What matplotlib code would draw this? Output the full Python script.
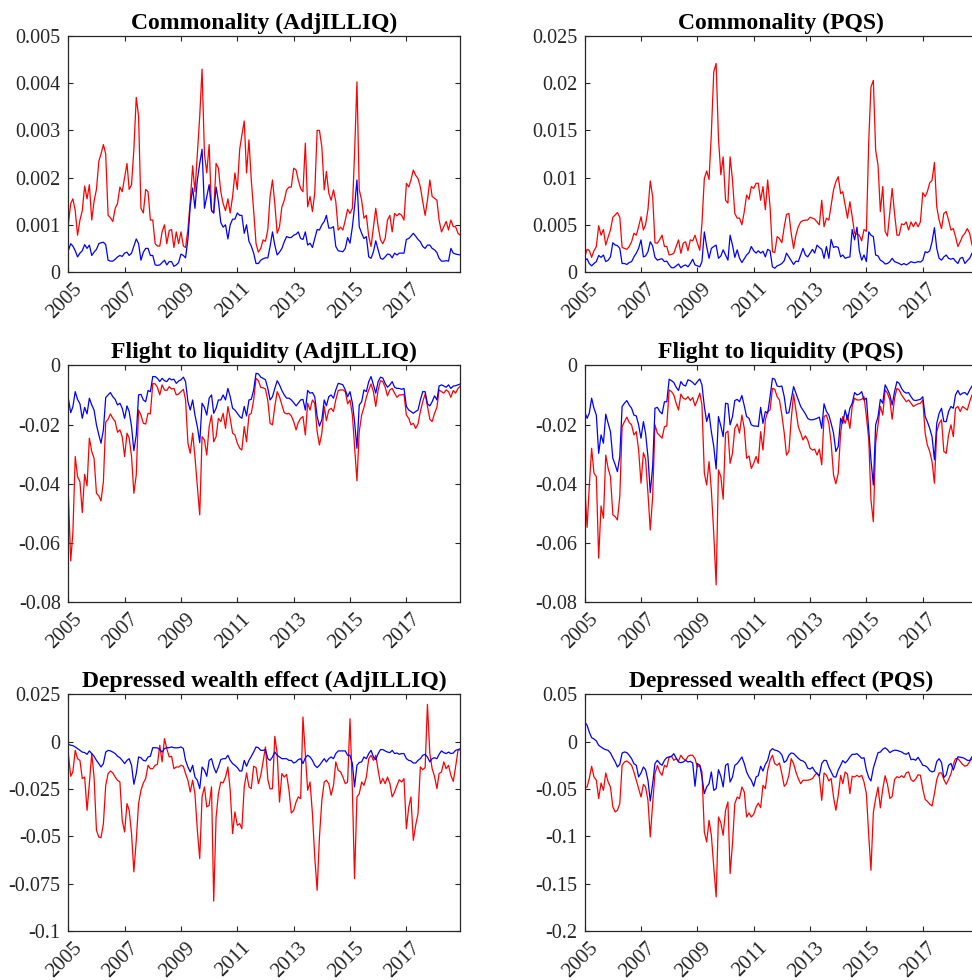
import numpy as np
import pandas as pd
import matplotlib
matplotlib.use('Agg')
import matplotlib.pyplot as plt
import matplotlib.transforms as mtransforms

plt.rcParams['font.family'] = ['Liberation Serif', 'DejaVu Serif']

# monthly observations Jan 2005 - Dec 2018, values in units of 1e-3
dates = pd.date_range('2005-01-01', periods=168, freq='MS')
year_ticks = pd.to_datetime(['2005-01-01', '2007-01-01', '2009-01-01', '2011-01-01',
                             '2013-01-01', '2015-01-01', '2017-01-01'])
year_labels = ['2005', '2007', '2009', '2011', '2013', '2015', '2017']

comm_adj_red = [
    1.0, 1.45, 1.55, 1.3, 0.78, 1.1, 1.3, 1.82, 1.55, 1.85, 1.1, 1.5,
    1.75, 2.35, 2.5, 2.7, 2.5, 1.2, 1.15, 1.07, 1.35, 1.45, 1.8, 1.7,
    2.0, 2.3, 1.75, 1.85, 2.6, 3.7, 3.3, 1.35, 1.25, 1.75, 1.7, 1.1,
    1.1, 0.6, 0.55, 0.55, 0.85, 1.0, 0.6, 0.88, 0.9, 0.52, 0.85, 0.6,
    0.85, 0.55, 0.52, 0.9, 1.5, 2.25, 1.7, 2.5, 3.3, 4.3, 2.5, 2.1,
    2.7, 1.3, 1.25, 2.3, 2.2, 1.7, 1.45, 1.3, 1.55, 1.25, 1.6, 2.1,
    1.75, 2.6, 2.9, 3.2, 2.1, 2.8, 1.95, 1.3, 0.6, 0.42, 0.5, 0.68,
    0.65, 0.9, 1.6, 1.95, 1.45, 0.82, 0.96, 1.38, 1.52, 1.74, 1.8, 1.8,
    2.2, 2.16, 1.95, 1.77, 1.7, 2.73, 1.38, 1.6, 1.28, 1.67, 3.0, 3.0,
    2.65, 1.74, 2.13, 1.67, 1.52, 1.74, 1.49, 0.89, 0.95, 0.89, 1.1, 1.33,
    1.24, 1.35, 2.5, 4.03, 1.74, 1.52, 1.14, 1.2, 0.75, 0.54, 0.96, 1.35,
    0.96, 0.68, 0.6, 0.71, 1.1, 1.2, 0.85, 1.24, 1.19, 1.24, 1.2, 1.1,
    1.88, 1.8, 1.95, 2.16, 2.05, 1.98, 1.8, 1.49, 1.2, 1.52, 1.95, 1.6,
    1.56, 1.52, 1.1, 0.85, 0.96, 1.07, 0.89, 1.1, 0.96, 0.96, 0.82, 0.78]
comm_adj_blue = [
    0.45, 0.6, 0.55, 0.45, 0.32, 0.4, 0.45, 0.58, 0.5, 0.57, 0.35, 0.42,
    0.48, 0.6, 0.62, 0.63, 0.58, 0.25, 0.23, 0.23, 0.27, 0.32, 0.35, 0.33,
    0.4, 0.42, 0.35, 0.4, 0.55, 0.7, 0.6, 0.25, 0.42, 0.5, 0.5, 0.35,
    0.35, 0.15, 0.14, 0.15, 0.2, 0.25, 0.15, 0.22, 0.22, 0.12, 0.15, 0.2,
    0.38, 0.35, 0.3, 0.7, 1.4, 1.78, 1.35, 1.95, 2.3, 2.6, 1.35, 1.6,
    1.85, 1.3, 1.25, 1.8, 1.5, 1.05, 0.95, 1.0, 0.7, 1.0, 1.12, 1.12,
    1.25, 1.2, 1.2, 0.82, 1.0, 0.65, 0.55, 0.4, 0.18, 0.18, 0.25, 0.28,
    0.3, 0.3, 0.54, 0.85, 0.57, 0.36, 0.42, 0.5, 0.64, 0.75, 0.73, 0.73,
    0.78, 0.8, 0.85, 0.71, 0.69, 0.85, 0.57, 0.61, 0.52, 0.71, 0.9, 0.89,
    1.0, 1.07, 1.2, 0.93, 0.93, 0.96, 0.54, 0.45, 0.44, 0.43, 0.5, 0.73,
    0.61, 0.96, 1.38, 1.95, 0.96, 0.82, 0.71, 0.75, 0.32, 0.29, 0.43, 0.66,
    0.47, 0.29, 0.27, 0.32, 0.38, 0.37, 0.3, 0.4, 0.36, 0.4, 0.4, 0.4,
    0.69, 0.71, 0.76, 0.82, 0.76, 0.69, 0.64, 0.54, 0.5, 0.57, 0.57, 0.5,
    0.47, 0.41, 0.29, 0.23, 0.23, 0.24, 0.23, 0.5, 0.4, 0.38, 0.37, 0.36]

comm_pqs_red = [
    1.6, 2.4, 2.3, 1.55, 2.25, 2.7, 4.9, 3.9, 4.5, 2.85, 3.7, 4.45,
    5.8, 6.05, 6.3, 5.8, 2.6, 2.5, 2.4, 2.7, 3.2, 4.1, 3.9, 4.8,
    5.85, 4.45, 5.0, 6.6, 9.65, 8.0, 3.1, 3.05, 3.45, 3.9, 2.7, 2.7,
    1.8, 1.87, 1.98, 2.7, 3.4, 1.98, 3.05, 3.2, 2.25, 3.4, 3.3, 3.9,
    3.05, 2.3, 5.15, 9.9, 10.7, 9.8, 14.7, 21.2, 22.1, 14.2, 10.3, 12.2,
    7.6, 7.3, 12.2, 9.75, 6.2, 5.7, 5.7, 5.0, 6.4, 8.15, 7.7, 9.05,
    8.85, 9.4, 9.4, 7.6, 9.05, 6.6, 9.75, 6.9, 2.15, 2.05, 3.75, 3.55,
    3.1, 4.8, 6.1, 6.2, 4.1, 2.5, 3.9, 4.8, 5.3, 5.45, 5.5, 5.5,
    5.8, 5.7, 5.6, 5.3, 5.0, 7.6, 4.8, 5.7, 5.5, 7.1, 8.7, 9.55,
    10.1, 8.3, 8.5, 7.1, 5.7, 7.45, 5.85, 4.1, 4.0, 3.9, 3.3, 4.5,
    4.3, 14.0, 19.6, 20.3, 12.9, 11.3, 6.4, 9.05, 4.3, 3.8, 6.4, 8.85,
    6.2, 3.9, 3.9, 5.1, 5.0, 5.3, 4.45, 5.3, 4.8, 5.3, 4.8, 5.3,
    8.4, 8.0, 8.5, 9.45, 9.7, 11.6, 6.9, 5.5, 4.6, 6.2, 6.4, 5.5,
    4.45, 4.6, 3.75, 2.7, 3.2, 3.8, 4.1, 4.6, 4.1, 2.85, 2.8, 2.9]
comm_pqs_blue = [
    1.2, 1.4, 0.9, 0.65, 0.9, 1.1, 1.75, 1.55, 1.8, 1.1, 1.25, 1.6,
    3.1, 2.85, 2.8, 2.5, 0.9, 0.9, 0.8, 1.0, 1.1, 1.6, 2.0, 2.5,
    3.4, 1.6, 1.7, 2.15, 3.2, 2.75, 1.55, 1.25, 1.35, 1.4, 1.1, 1.15,
    0.75, 0.45, 0.45, 0.65, 0.85, 0.45, 0.65, 0.75, 0.55, 0.9, 1.35, 0.75,
    0.65, 0.55, 1.1, 4.25, 2.7, 1.45, 2.5, 2.7, 2.85, 1.45, 1.7, 2.35,
    1.8, 1.25, 3.9, 2.85, 1.55, 2.35, 1.45, 1.0, 1.4, 1.8, 2.05, 2.7,
    2.25, 2.0, 2.25, 2.0, 2.2, 1.6, 2.4, 2.25, 0.55, 0.4, 0.65, 0.75,
    0.9, 1.2, 2.0, 1.6, 1.2, 0.8, 1.15, 1.1, 1.8, 2.5, 1.8, 1.6,
    2.0, 2.4, 2.0, 2.85, 2.6, 2.4, 1.45, 2.7, 1.45, 3.45, 2.6, 2.7,
    2.6, 1.6, 1.8, 1.45, 1.55, 1.6, 4.5, 3.4, 4.75, 2.25, 1.25, 1.8,
    1.1, 4.25, 3.9, 3.75, 1.8, 1.7, 1.25, 1.1, 0.85, 0.9, 1.1, 1.45,
    1.1, 1.0, 0.9, 0.75, 0.9, 0.75, 0.9, 1.1, 1.0, 1.0, 1.1, 1.05,
    1.25, 2.15, 2.05, 2.25, 3.2, 4.7, 2.5, 1.45, 1.25, 1.6, 1.8, 1.45,
    1.35, 1.45, 1.15, 0.9, 1.45, 1.55, 0.9, 1.2, 1.45, 2.0, 2.1, 2.2]

flight_adj_red = [
    -43, -66, -56.7, -30.8, -37.6, -39.3, -49.7, -36.8, -40.7, -24.6, -29.1, -31.4,
    -43.2, -44.1, -45.8, -39.3, -19.2, -18.2, -16.4, -17.9, -19, -22.6, -21.8, -24.1,
    -30.8, -22.9, -24.6, -30.8, -43.2, -37, -15.1, -16.8, -19.6, -19.8, -16.2, -16.4,
    -6.1, -6.3, -7.4, -10, -6.6, -8.3, -8.5, -7.2, -8, -7.8, -10, -9.7,
    -8.9, -8.1, -11.7, -26.3, -29.7, -22.9, -30.8, -40.9, -50.5, -24.1, -25.2, -30.3,
    -20.7, -16.8, -25.8, -24.1, -17.9, -19, -16.2, -21.3, -13.9, -17.9, -22.9, -23.5,
    -26.3, -28, -28.6, -20.7, -25.8, -16.8, -16.2, -11.7, -4.4, -5.2, -7.5, -7.6,
    -8, -12, -19.6, -20.1, -13.9, -8.9, -10.6, -13.4, -16, -16.4, -16.2, -17.1,
    -19, -21.8, -19.3, -17.9, -17.3, -23.5, -12.8, -15.1, -11.7, -12.8, -22.4, -26.9,
    -22.9, -13.9, -18.7, -15.1, -14.5, -15.6, -11.7, -8.5, -8.3, -8.3, -8.9, -13,
    -11.7, -16.8, -27.4, -39, -22.4, -16.8, -14.2, -10.8, -8.3, -6.3, -8.9, -13.9,
    -8.3, -5.2, -5.5, -7.4, -10.3, -8.3, -7.8, -9.4, -10.8, -10, -10, -9.8,
    -16.8, -17.9, -20.1, -19.6, -21.3, -19.8, -15.6, -12.3, -9.7, -13.7, -18.2, -19,
    -16.2, -14.2, -8.3, -8.9, -9.4, -8.3, -8.9, -10.8, -8.5, -9.4, -7.8, -7]
flight_adj_blue = [
    -11.1, -16, -14, -8.9, -11.5, -13, -17.9, -14.2, -16.4, -11.1, -13.4, -15.1,
    -20.1, -23.5, -26.3, -21.8, -10.9, -10, -9.2, -10.6, -11.5, -13.4, -12.8, -14.5,
    -17.9, -13.7, -15.6, -20.7, -28.8, -23.5, -10, -9.8, -11.7, -12.3, -8.5, -8.9,
    -3.8, -3.8, -4.4, -5.5, -4.4, -5.2, -5.5, -4.4, -4.9, -4.7, -6.1, -5.3,
    -4.9, -4, -5.5, -12.3, -15.1, -11.7, -16.8, -20.7, -26.1, -12.8, -14.2, -16.8,
    -11.1, -10, -16.2, -14.5, -11.7, -11.7, -10, -11.7, -7.8, -10.6, -14.5, -15.1,
    -16.2, -17.3, -17.9, -13.9, -17.1, -11.7, -11.5, -8.3, -2.7, -2.9, -4, -4.4,
    -4.9, -7.8, -11.7, -10.6, -7.8, -5.2, -6.6, -8.5, -10, -11.1, -11.1, -11.7,
    -12.6, -13.7, -12.8, -11.7, -11.5, -15.1, -8.5, -9.4, -9.2, -10.6, -17.3, -20.5,
    -18.4, -11.7, -13.7, -10.6, -10, -11.1, -8.3, -6.1, -6.3, -6.6, -8.3, -10.6,
    -8.9, -12.8, -19, -28, -13.4, -12.3, -8.3, -8.9, -5.5, -3.8, -6.6, -9.4,
    -5.5, -4, -4.3, -6.1, -7.4, -6.6, -5.5, -7.4, -7.8, -7.8, -8.1, -7.8,
    -13.9, -15.1, -15.6, -16.2, -15.6, -15.1, -11.7, -8.9, -8.9, -13, -13.7, -12.3,
    -10.3, -11.7, -7, -6.6, -7, -7.4, -6.6, -7.8, -7, -6.9, -6.6, -6.3]

flight_pqs_red = [
    -40.4, -54.7, -40.9, -28, -36.4, -37.6, -65.1, -47.5, -51.6, -30.3, -34.8, -37.6,
    -50.5, -51.1, -52.2, -44.3, -20.7, -19, -17.5, -19.3, -20.1, -23.5, -22.4, -28.6,
    -39.8, -29.5, -31.7, -43.2, -55.6, -44.3, -20.1, -22.9, -23.8, -24.6, -20.7, -20.5,
    -8.3, -8.9, -10, -12.8, -15.1, -9.7, -11.1, -11.5, -10.6, -11.9, -10.9, -13.7,
    -11.7, -9.4, -13.4, -36.4, -40.4, -32.5, -42.1, -56.7, -74.1, -35.3, -37.6, -45.2,
    -22.9, -22.2, -33.1, -29.7, -21.3, -19.8, -22.9, -16.8, -21.3, -31.4, -30.6, -34.8,
    -33.1, -30.8, -33.1, -22.4, -28.6, -18.4, -15.6, -15.1, -7.8, -8.1, -10.6, -11.7,
    -16.8, -22.9, -30.3, -29.1, -18.4, -9.7, -15.1, -20.7, -22.9, -25.2, -23.8, -25.2,
    -28, -28.6, -28.3, -30.3, -28.3, -33.6, -17.3, -16.8, -19.6, -26.3, -37, -40,
    -36.4, -22.9, -17.3, -19.6, -16.8, -21.3, -13.9, -11.1, -11.7, -11.7, -11.5, -10.6,
    -17.3, -25.2, -45.4, -52.8, -26.3, -20.1, -13.9, -16.8, -8.3, -9.4, -11.7, -18.2,
    -11.1, -7.8, -8.3, -10, -11.1, -12.3, -11.7, -12.8, -13.9, -13.4, -13, -12.8,
    -11.7, -22.9, -26.9, -29.1, -32.5, -39.8, -22.4, -19.6, -18.4, -29.1, -29.7, -23.5,
    -20.1, -24.1, -14.5, -13.9, -15.6, -13.9, -14.5, -15.1, -12.3, -10, -10.5, -9.5]
flight_pqs_blue = [
    -15.6, -17.9, -16.2, -11.1, -14.5, -16.8, -29.7, -23.5, -26.3, -16.5, -19.6, -22.4,
    -31.4, -33.6, -35.9, -30.8, -13.9, -12.8, -11.9, -13.4, -14.5, -16.8, -17.1, -20.1,
    -24.6, -19, -22.9, -30.8, -43, -34.2, -14.5, -14.2, -15.6, -16.4, -12.3, -12.3,
    -4.7, -5.2, -5.8, -7.4, -8.5, -5.5, -6.6, -7, -4.9, -5.2, -5.8, -6.6,
    -5.5, -4.6, -6.6, -13.9, -19, -16.2, -22.4, -27.4, -35, -17.3, -20.5, -24.1,
    -12.8, -13, -20.1, -17.3, -11.9, -11.5, -12.3, -10.2, -13.7, -17.3, -17.9, -20.1,
    -20.5, -20.5, -20.7, -14.2, -19.6, -15.6, -16.2, -10.6, -4.4, -4.7, -7, -7.2,
    -7, -10.6, -16.2, -16, -11.7, -7.2, -9.4, -11.7, -13.9, -15.1, -16.4, -17.9,
    -18.4, -18.4, -18.2, -17.9, -17.5, -21.3, -13, -15.6, -16.8, -19.6, -22.9, -29.1,
    -27.4, -17.9, -19.6, -15.1, -18.4, -14.5, -12.8, -9.2, -10, -9.7, -8.9, -11.7,
    -11.1, -21.8, -31.9, -40.4, -20.1, -17.3, -11.5, -12.8, -6.6, -8.1, -10, -13.4,
    -8.9, -5.5, -6.1, -7.8, -8.9, -9.4, -9.2, -10.6, -11.7, -11.9, -11.7, -11.5,
    -10.6, -17.3, -19, -21.3, -24.1, -31.9, -19.6, -16.2, -14.5, -19, -19, -15.6,
    -13.9, -14.5, -10, -8.5, -10, -9.4, -9.2, -10, -8.3, -7, -7.5, -7]

wealth_adj_red = [
    -6.3, -18.3, -16, -4.6, -9, -9.9, -19.5, -18.7, -36.3, -22.2, -6.3, -18.7,
    -46.8, -50.4, -50.7, -43.3, -23.1, -16.9, -15.5, -16.5, -18.7, -20.4, -21.3, -41.5,
    -47.7, -32.7, -36.3, -48.6, -68.8, -52.1, -32.7, -25.7, -21.8, -19.5, -12.5, -14.3,
    -14.3, -12.5, -12, -1.9, -10.7, 1.6, -3.7, -8.1, -7.7, -14.3, -13.4, -13.4,
    -12.5, -13, -16.9, -20.4, -26.6, -20.4, -27.5, -46.8, -61.8, -29.2, -23.9, -34.5,
    -33.6, -23.9, -84.2, -40, -27.5, -21.3, -21.8, -18.7, -13.4, -25.7, -48.6, -37.1,
    -44.2, -43.3, -46, -23.9, -16.5, -23.9, -24.8, -13, -13.7, -22.2, -17.8, -10.7,
    -2.8, -20, -25, -24.8, 2.8, -6.3, -31.9, -16.9, -18.7, -17.3, -25.7, -37.7,
    -36.3, -31.9, -29.2, -30.1, 13, -6.3, -25.7, -21.3, -38, -60.9, -78.5, -50.4,
    -31, -21.3, -20.4, -22.2, -28.3, -23.1, -10.7, -15.1, -16, -18.7, -22.2, -21.3,
    12.1, -25.7, -72.4, -29.2, -27.5, -21.3, -23.1, -18.7, -9, -7.2, -9.9, -7.2,
    -15.1, -22.2, -19.5, -22.2, -18.7, -22.2, -29.2, -26.6, -23.1, -20.1, -21.3, -19.5,
    -46, -34.5, -29.2, -52.1, -44.2, -38, -13.4, -14.8, -13.7, 19.7, -6.3, -14.3,
    -18.3, -24.8, -16.9, -16, -10.7, -14.3, -12.5, -17.8, -21, -13.4, -4.6, -4.2]
wealth_adj_blue = [
    -1.4, -1.9, -2.1, -2.8, -3.7, -4.6, -5.5, -5.8, -6.7, -4.9, -6.3, -7.7,
    -9.9, -11.6, -13.4, -11.6, -5.5, -4.6, -4.9, -5.5, -6.3, -7.7, -8.5, -9.9,
    -11.6, -9.9, -9, -12.5, -22.5, -16.9, -8.1, -8.5, -9.9, -10.2, -8.1, -7.7,
    -3.2, -3.2, -3.3, -4.2, -5.5, -3.7, -3.2, -3.2, -2.8, -3.2, -3.3, -3.2,
    -2.8, -3.7, -9.9, -13.4, -16, -12.5, -18.7, -20.4, -24.8, -13.4, -15.1, -18.3,
    -9.9, -9, -13.4, -16.5, -13.4, -9.5, -9, -9, -7.2, -9.9, -11.6, -12.5,
    -13.7, -15.5, -15.5, -9.9, -13, -9.9, -7.7, -5.5, -2.8, -3.2, -4.6, -4.6,
    -4.2, -9, -9.9, -8.1, -5.5, -7.2, -8.1, -9, -9, -9, -9.9, -9.9,
    -11.3, -10.7, -9.5, -9, -11.6, -8.5, -7.2, -8.1, -9.9, -12.5, -13.7, -12.5,
    -10.7, -9, -10.7, -9, -8.1, -9, -6.3, -4.9, -4.9, -4.9, -4.9, -7.2,
    -7.2, -11.6, -23.9, -12.5, -11, -10.7, -8.1, -9, -6.3, -4.6, -8.1, -9.5,
    -6.3, -4.2, -4.2, -4.9, -5.5, -5.8, -4.6, -6.3, -6, -6.7, -6.3, -6.3,
    -9, -9.9, -10.2, -11.3, -11.3, -9.9, -9, -7.2, -6.7, -8.1, -10.7, -9,
    -8.5, -9, -6.7, -4.9, -5.8, -6.3, -5.5, -6.3, -6, -4.6, -4.2, -3.7]

wealth_pqs_red = [
    -48.6, -47.9, -39, -26, -37.3, -40.8, -60.2, -43.7, -51.4, -33.1, -42.6, -47.9,
    -69, -74.3, -72.5, -65.5, -25, -21.5, -20.4, -22.5, -25, -32, -40.8, -49.6,
    -58.5, -45.1, -47.9, -62, -100.7, -65.5, -33.8, -25, -32, -35.6, -25, -26.8,
    -16.2, -15.5, -19.7, -18, -20.4, -14.4, -18, -19.7, -15.5, -14.4, -14.4, -18,
    -26.8, -25, -32, -95.4, -106, -83.1, -98.9, -132.4, -164, -79.6, -85.9, -98.9,
    -72.5, -63.7, -139.4, -107.7, -65.5, -58.5, -60.2, -47.9, -53.2, -79.6, -75.4, -79.6,
    -76.8, -69, -65, -69.7, -46.1, -49.6, -30.3, -19.7, -14.4, -23.2, -25, -22.5,
    -33.8, -47.2, -44.4, -35.6, -18, -23.2, -32, -39, -44.4, -40.8, -40.8, -40.8,
    -40.1, -39, -35.6, -33.1, -37.3, -62, -33.1, -35.6, -41.5, -39, -58.5, -72.5,
    -56.7, -35.6, -44.4, -32, -34.5, -54.9, -36.6, -37.3, -35.6, -37.3, -35.6, -42.6,
    -55, -100, -135.9, -75, -60, -48, -70, -50, -36, -45, -60, -58,
    -40, -37, -38, -36, -38, -33, -32, -40, -42, -39.5, -35, -35.5,
    -50, -61, -63, -66, -68, -55, -40, -33, -33, -40, -45, -40,
    -34, -24, -18, -18, -21, -24, -26, -25, -21, -18, -17, -16]
wealth_pqs_blue = [
    20.8, 17.3, 10.2, 4.2, 2.8, 0.7, -3.9, -5.6, -7.4, -8.5, -9.2, -12,
    -16.9, -21.5, -26.8, -23.9, -12, -10.9, -11.6, -14.4, -18, -23.2, -25, -37.3,
    -33.1, -26.8, -29.6, -40.8, -62.7, -44.4, -23.2, -19.7, -23.2, -25, -19.7, -16.9,
    -16.2, -15.5, -12.7, -17.3, -21.5, -22.2, -21.5, -19.7, -21.5, -20.8, -22.5, -47.2,
    -23.2, -25, -37.3, -54.9, -47.9, -44.4, -32, -51.4, -49.6, -29.6, -36.6, -47.9,
    -25, -23.2, -42.6, -37.3, -25, -23.2, -19.7, -16.2, -23.2, -32, -37.3, -40.8,
    -47.2, -37.3, -36, -26, -31, -24, -20, -10, -7.4, -9, -9.5, -11,
    -14, -22, -20, -14.4, -12, -12.5, -15, -17.6, -19.7, -20.4, -22.5, -28,
    -29, -27, -31, -33.8, -36, -23, -19.7, -20, -27, -32, -37, -37.5,
    -30, -25, -20, -22.5, -20, -16.2, -13.4, -13.4, -12.7, -15, -17.6, -17,
    -30, -38, -41.5, -28, -20, -11.6, -11, -8, -6.5, -8.5, -11.6, -10,
    -9, -9.2, -10, -10.9, -12.5, -13.4, -11.6, -19, -18.5, -19.7, -16.5, -20.5,
    -25, -25.5, -27, -30.5, -32, -31, -21, -18, -22, -38, -35, -25,
    -23, -30, -23, -16, -16.5, -16.9, -18, -19.7, -20, -16, -15, -14]

titles = ['Commonality (AdjILLIQ)', 'Commonality (PQS)',
          'Flight to liquidity (AdjILLIQ)', 'Flight to liquidity (PQS)',
          'Depressed wealth effect (AdjILLIQ)', 'Depressed wealth effect (PQS)']
yticks = [[0, 0.001, 0.002, 0.003, 0.004, 0.005],
          [0, 0.005, 0.01, 0.015, 0.02, 0.025],
          [-0.08, -0.06, -0.04, -0.02, 0],
          [-0.08, -0.06, -0.04, -0.02, 0],
          [-0.1, -0.075, -0.05, -0.025, 0, 0.025],
          [-0.2, -0.15, -0.1, -0.05, 0, 0.05]]
series = [(comm_adj_red, comm_adj_blue), (comm_pqs_red, comm_pqs_blue),
          (flight_adj_red, flight_adj_blue), (flight_pqs_red, flight_pqs_blue),
          (wealth_adj_red, wealth_adj_blue), (wealth_pqs_red, wealth_pqs_blue)]

W, H = 972, 980
fig = plt.figure(figsize=(W / 100, H / 100), dpi=100)

# axes boxes in pixels (left, top, right, bottom); right column runs past the image edge
col_x = [(68.3, 460.3), (584.7, 976.7)]
row_y = [(36, 272), (365.3, 602.3), (694.3, 931)]
ink = '#262626'
# nudge the rotated year labels a little to the right, as in the original
shift = mtransforms.ScaledTranslation(3 / 72, 0, fig.dpi_scale_trans)

for i, (title, yt, (red, blue)) in enumerate(zip(titles, yticks, series)):
    x0, x1 = col_x[i % 2]
    y0, y1 = row_y[i // 2]
    ax = fig.add_axes([x0 / W, 1 - y1 / H, (x1 - x0) / W, (y1 - y0) / H])
    ax.plot(dates, np.array(red) / 1000, color='#ff0000', lw=0.9)
    ax.plot(dates, np.array(blue) / 1000, color='#0000ff', lw=0.9)
    ax.set_xlim(dates[0], dates[-1])
    ax.set_ylim(yt[0], yt[-1])
    ax.set_yticks(yt)
    ax.set_yticklabels(['%g' % v for v in yt])
    ax.set_xticks(year_ticks)
    ax.set_xticklabels(year_labels, rotation=45, ha='right', va='top',
                       rotation_mode='anchor')
    ax.tick_params(direction='in', length=3.4, width=0.8, top=True, right=True,
                   colors=ink, pad=5.5)
    ax.tick_params(axis='y', labelsize=14.5)
    ax.tick_params(axis='x', labelsize=15, pad=5.5)
    for lab in ax.get_xticklabels():
        lab.set_transform(lab.get_transform() + shift)
    for s in ax.spines.values():
        s.set_linewidth(0.9)
        s.set_color(ink)
    ax.set_title(title, fontsize=17, fontweight='bold', pad=5)

fig.savefig('out.png', dpi=100)
